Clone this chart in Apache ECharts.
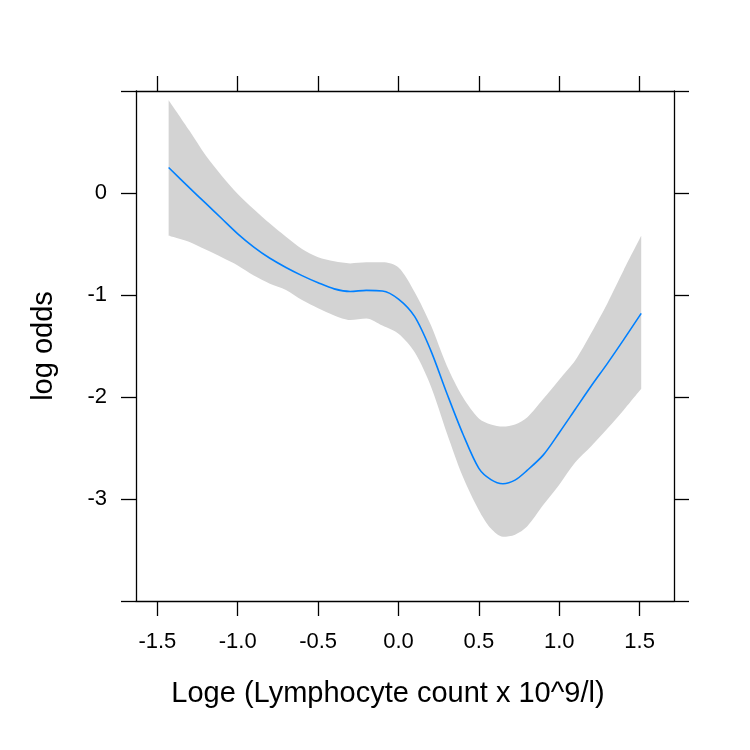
<!DOCTYPE html>
<html>
<head>
<meta charset="utf-8">
<script src="https://cdn.jsdelivr.net/npm/echarts@6/dist/echarts.min.js"></script>
<style>
  html, body { margin: 0; padding: 0; background: #fff; }
  #chart { width: 750px; height: 750px; }
</style>
</head>
<body>
<div id="chart"></div>
<script>
// spline fit of log odds vs log lymphocyte count, with its confidence band
const xVals = [-1.43, -1.3, -1.2, -1.1, -1.0, -0.9, -0.8, -0.7, -0.6, -0.5, -0.4, -0.3, -0.2, -0.1, 0.0,
               0.1, 0.2, 0.3, 0.4, 0.5, 0.575, 0.65, 0.725, 0.8, 0.9, 1.0, 1.1, 1.2, 1.3, 1.4, 1.51];
const fitVals = [0.25, 0.05, -0.10, -0.25, -0.40, -0.53, -0.64, -0.73, -0.81, -0.88, -0.94, -0.965, -0.955, -0.96, -1.04,
                 -1.21, -1.54, -1.96, -2.36, -2.70, -2.81, -2.85, -2.815, -2.72, -2.57, -2.35, -2.12, -1.89, -1.67, -1.44, -1.18];
const upperVals = [0.91, 0.61, 0.37, 0.17, -0.01, -0.16, -0.30, -0.43, -0.55, -0.63, -0.67, -0.69, -0.68, -0.68, -0.73,
                   -0.97, -1.29, -1.69, -2.00, -2.21, -2.27, -2.29, -2.27, -2.20, -2.02, -1.83, -1.64, -1.37, -1.08, -0.76, -0.42];
const lowerVals = [-0.42, -0.48, -0.555, -0.63, -0.71, -0.81, -0.89, -0.95, -1.05, -1.13, -1.20, -1.245, -1.23, -1.30, -1.38,
                   -1.56, -1.89, -2.35, -2.78, -3.11, -3.29, -3.37, -3.35, -3.27, -3.06, -2.86, -2.64, -2.48, -2.31, -2.13, -1.92];
const xTicks = [-1.5, -1.0, -0.5, 0.0, 0.5, 1.0, 1.5];
const yTicks = [-4, -3, -2, -1, 0, 1];
const yLabels = [-3, -2, -1, 0];

const chart = echarts.init(document.getElementById('chart'));

// y goes first so that the stack works on y (both axes are value axes)
const lowerData = xVals.map((x, i) => [lowerVals[i], x]);
const widthData = xVals.map((x, i) => [upperVals[i] - lowerVals[i], x]);
const fitData = xVals.map((x, i) => [x, fitVals[i]]);

const axisLine = { show: true, onZero: false, lineStyle: { color: '#000', width: 1.3 } };
const tickStyle = { color: '#000', width: 1.3 };
const fontName = 'Liberation Sans, Arial, sans-serif';
const labelFont = { fontFamily: fontName, fontSize: 22, color: '#000' };

const option = {
    animation: false,
    backgroundColor: '#fff',
    grid: { left: 136, top: 91, width: 538, height: 510, outerBoundsMode: 'none', show: false },
    xAxis: [
        {
            type: 'value', position: 'bottom', min: -1.633, max: 1.714,
            name: 'Loge (Lymphocyte count x 10^9/l)', nameLocation: 'middle', nameGap: 78,
            nameTextStyle: { fontFamily: fontName, fontSize: 29, color: '#000', padding: [0, 34, 0, 0] },
            axisLine: axisLine,
            axisTick: { show: true, inside: false, length: 15, lineStyle: tickStyle, customValues: xTicks },
            axisLabel: Object.assign({ show: true, margin: 30, customValues: xTicks,
                formatter: v => v.toFixed(1) }, labelFont),
            splitLine: { show: false }
        },
        {
            type: 'value', position: 'top', min: -1.633, max: 1.714,
            axisLine: axisLine,
            axisTick: { show: true, inside: false, length: 15, lineStyle: tickStyle, customValues: xTicks },
            axisLabel: { show: false },
            splitLine: { show: false }
        }
    ],
    yAxis: [
        {
            type: 'value', position: 'left', min: -4, max: 1, interval: 1,
            name: 'log odds', nameLocation: 'middle', nameGap: 78, nameRotate: 90,
            nameTextStyle: { fontFamily: fontName, fontSize: 29, color: '#000' },
            axisLine: axisLine,
            axisTick: { show: true, inside: false, length: 15, lineStyle: tickStyle, customValues: yTicks },
            axisLabel: Object.assign({ show: true, margin: 29, customValues: yLabels,
                formatter: v => String(v) }, labelFont),
            splitLine: { show: false }
        },
        {
            type: 'value', position: 'right', min: -4, max: 1, interval: 1,
            axisLine: axisLine,
            axisTick: { show: true, inside: false, length: 15, lineStyle: tickStyle, customValues: yTicks },
            axisLabel: { show: false },
            splitLine: { show: false }
        }
    ],
    series: [
        {
            type: 'line', data: lowerData, encode: { x: 1, y: 0 },
            stack: 'band', stackStrategy: 'all',
            smooth: 0.3, symbol: 'none', silent: true,
            lineStyle: { opacity: 0 }
        },
        {
            type: 'line', data: widthData, encode: { x: 1, y: 0 },
            stack: 'band', stackStrategy: 'all',
            smooth: 0.3, symbol: 'none', silent: true,
            lineStyle: { opacity: 0 },
            areaStyle: { color: '#d3d3d3', opacity: 1 }
        },
        {
            type: 'line', data: fitData,
            smooth: 0.3, symbol: 'none',
            lineStyle: { color: '#0080ff', width: 1.6 }
        }
    ]
};

chart.setOption(option);

window.addEventListener('resize', function () {
    chart.resize();
});
</script>
</body>
</html>
